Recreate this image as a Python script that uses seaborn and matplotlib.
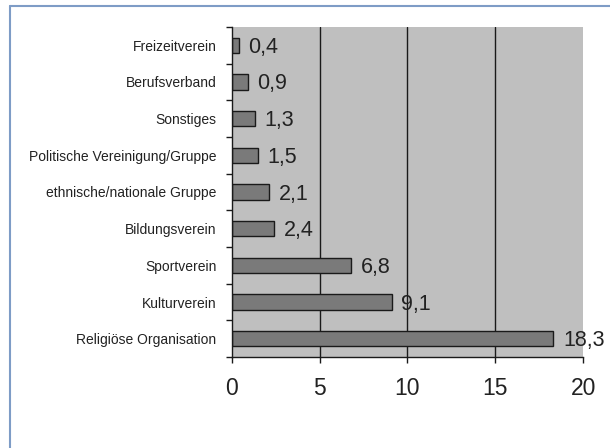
import matplotlib
matplotlib.use("Agg")
import matplotlib.pyplot as plt
import seaborn as sns
import pandas as pd
from matplotlib.lines import Line2D
from matplotlib.ticker import FixedLocator

categories = [
    "Freizeitverein",
    "Berufsverband",
    "Sonstiges",
    "Politische Vereinigung/Gruppe",
    "ethnische/nationale Gruppe",
    "Bildungsverein",
    "Sportverein",
    "Kulturverein",
    "Religiöse Organisation",
]
values = [0.4, 0.9, 1.3, 1.5, 2.1, 2.4, 6.8, 9.1, 18.3]
value_labels = ["0,4", "0,9", "1,3", "1,5", "2,1", "2,4", "6,8", "9,1", "18,3"]

df = pd.DataFrame({"kategorie": categories, "wert": values})

sns.set_style("white")
plt.rcParams["font.family"] = ["Liberation Sans", "DejaVu Sans"]

fig = plt.figure(figsize=(6.1, 4.48), dpi=100)
ax = fig.add_axes([0.380, 0.203, 0.576, 0.737])

sns.barplot(
    data=df, x="wert", y="kategorie", orient="h", ax=ax,
    color="#7a7a7a", edgecolor="#1a1a1a", linewidth=1.0, width=0.42,
    saturation=1,
)
ax.set_facecolor("#bfbfbf")
ax.set_xlim(0, 20)
ax.set_ylim(len(categories) - 0.5, -0.5)
ax.set_xticks([0, 5, 10, 15, 20])
ax.set_xticklabels(["0", "5", "10", "15", "20"], fontsize=16.5)
for x in [5, 10, 15]:
    ax.axvline(x, color="#1a1a1a", lw=1.0, zorder=0.5)

# category boundaries as y ticks
ax.yaxis.set_minor_locator(FixedLocator([i - 0.5 for i in range(len(categories) + 1)]))
ax.tick_params(axis="y", which="minor", length=4, width=1, color="#1a1a1a", left=True)
ax.tick_params(axis="y", which="major", length=0, labelsize=10, pad=11,
               labelcolor="#222222")
ax.tick_params(axis="x", length=4, width=1, color="#1a1a1a", bottom=True, pad=10,
               labelcolor="#222222")
ax.set_xlabel("")
ax.set_ylabel("")

for s in ["top", "right"]:
    ax.spines[s].set_visible(False)
for s in ["left", "bottom"]:
    ax.spines[s].set_color("#1a1a1a")
    ax.spines[s].set_linewidth(1.0)

for i, (v, lab) in enumerate(zip(values, value_labels)):
    ax.annotate(lab, (v, i), xytext=(7, -1.5), textcoords="offset points",
                ha="left", va="center", fontsize=15.5, color="#222222",
                annotation_clip=False)

# light blue frame
fig.add_artist(Line2D([0.016, 1.0], [0.987, 0.987], transform=fig.transFigure,
                      color="#7e9cc6", lw=1.5))
fig.add_artist(Line2D([0.016, 0.016], [0.0, 0.987], transform=fig.transFigure,
                      color="#7e9cc6", lw=1.5))

fig.savefig("out.png", dpi=100)
